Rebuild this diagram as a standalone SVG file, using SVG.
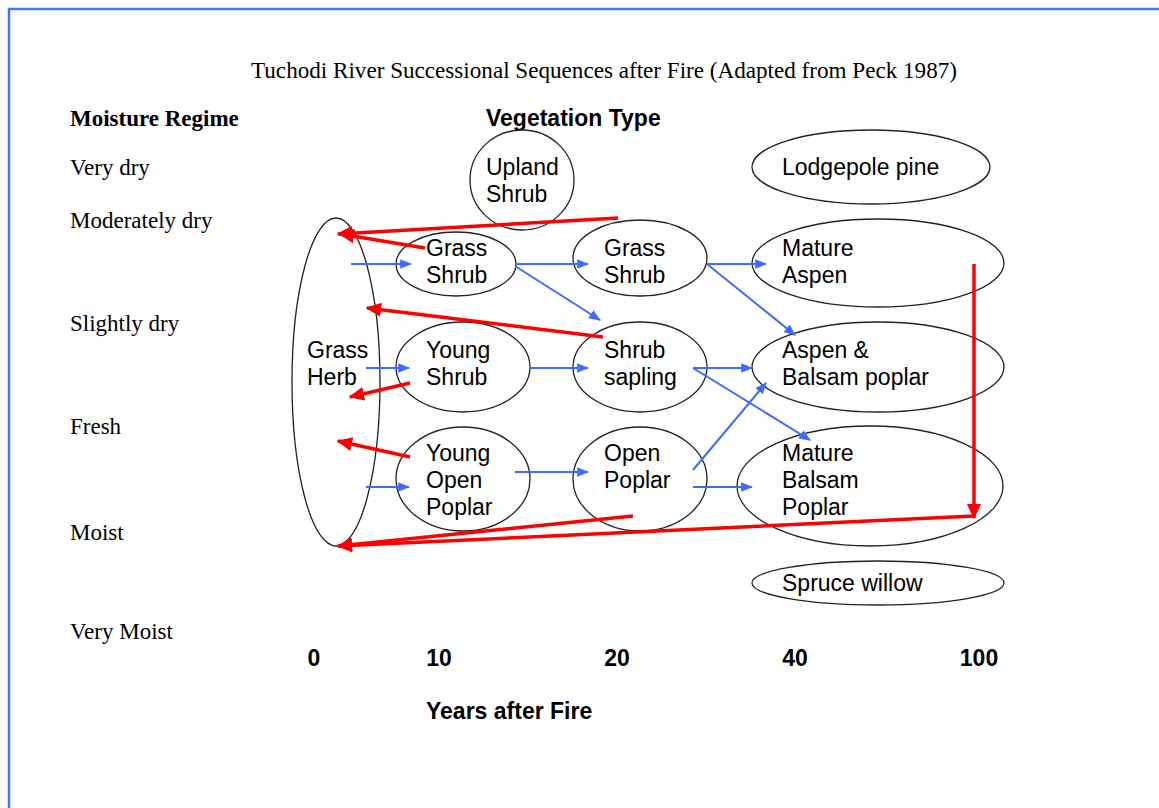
<svg xmlns="http://www.w3.org/2000/svg" width="1159" height="808" viewBox="0 0 1159 808">
<defs>
<style>
.serif{font-family:"Liberation Serif","Times New Roman",serif;font-size:23px;fill:#000}
.sans{font-family:"Liberation Sans",Arial,sans-serif;font-size:23px;fill:#000}
.b{font-weight:bold}
.node{fill:#fff;stroke:#222;stroke-width:1.3}
.blue{stroke:#3d6bff;stroke-width:2;fill:none;marker-end:url(#ab)}
.red{stroke:#ff0000;stroke-width:3.5;fill:none;marker-end:url(#ar)}
</style>
<marker id="ab" viewBox="0 0 10 10" refX="9" refY="5" markerWidth="6" markerHeight="6" orient="auto" markerUnits="strokeWidth">
<path d="M0,1 L10,5 L0,9 Z" fill="#3d6bff"/>
</marker>
<marker id="ar" viewBox="0 0 10 10" refX="9" refY="5" markerWidth="4.5" markerHeight="4.5" orient="auto" markerUnits="strokeWidth">
<path d="M0,0.5 L10,5 L0,9.5 Z" fill="#ff0000"/>
</marker>
</defs>
<rect width="1159" height="808" fill="#fff"/>
<path d="M9,808 V9 H1159" fill="none" stroke="#4a72f5" stroke-width="2.5"/>

<text class="serif" x="251" y="78" textLength="706" lengthAdjust="spacingAndGlyphs" style="font-size:22.5px">Tuchodi River Successional Sequences after Fire (Adapted from Peck 1987)</text>
<text class="serif b" x="70" y="126">Moisture Regime</text>
<text class="sans b" x="486" y="126">Vegetation Type</text>
<g id="moisture-labels">
<text class="serif" x="70" y="175">Very dry</text>
<text class="serif" x="70" y="228">Moderately dry</text>
<text class="serif" x="70" y="331">Slightly dry</text>
<text class="serif" x="70" y="434">Fresh</text>
<text class="serif" x="70" y="540">Moist</text>
<text class="serif" x="70" y="639">Very Moist</text>
</g>
<g id="axis">
<text class="sans b" x="314" y="666" text-anchor="middle">0</text>
<text class="sans b" x="439" y="666" text-anchor="middle">10</text>
<text class="sans b" x="617" y="666" text-anchor="middle">20</text>
<text class="sans b" x="795" y="666" text-anchor="middle">40</text>
<text class="sans b" x="979" y="666" text-anchor="middle">100</text>
<text class="sans b" x="426" y="719">Years after Fire</text>
</g>

<g id="n-grass-herb"><ellipse class="node" cx="336" cy="382" rx="44" ry="164"/><text class="sans" x="307" y="358">Grass</text><text class="sans" x="307" y="385">Herb</text></g>
<g id="n-upland-shrub"><ellipse class="node" cx="522" cy="180" rx="52" ry="50"/><text class="sans" x="486" y="175">Upland</text><text class="sans" x="486" y="202">Shrub</text></g>
<g id="n-lodgepole"><ellipse class="node" cx="871" cy="167" rx="119" ry="37"/><text class="sans" x="782" y="175">Lodgepole pine</text></g>
<g id="n-grass-shrub-10"><ellipse class="node" cx="456" cy="264" rx="60" ry="32"/><text class="sans" x="426" y="256">Grass</text><text class="sans" x="426" y="283">Shrub</text></g>
<g id="n-young-shrub"><ellipse class="node" cx="463" cy="367" rx="67" ry="45"/><text class="sans" x="426" y="358">Young</text><text class="sans" x="426" y="385">Shrub</text></g>
<g id="n-young-open-poplar"><ellipse class="node" cx="463" cy="479" rx="67" ry="52"/><text class="sans" x="426" y="461">Young</text><text class="sans" x="426" y="488">Open</text><text class="sans" x="426" y="515">Poplar</text></g>
<g id="n-grass-shrub-20"><ellipse class="node" cx="640" cy="258" rx="67" ry="38"/><text class="sans" x="604" y="256">Grass</text><text class="sans" x="604" y="283">Shrub</text></g>
<g id="n-shrub-sapling"><ellipse class="node" cx="640" cy="367" rx="67" ry="45"/><text class="sans" x="604" y="358">Shrub</text><text class="sans" x="604" y="385">sapling</text></g>
<g id="n-open-poplar"><ellipse class="node" cx="640" cy="479" rx="67" ry="52"/><text class="sans" x="604" y="461">Open</text><text class="sans" x="604" y="488">Poplar</text></g>
<g id="n-mature-aspen"><ellipse class="node" cx="878" cy="263" rx="126" ry="44"/><text class="sans" x="782" y="256">Mature</text><text class="sans" x="782" y="283">Aspen</text></g>
<g id="n-aspen-balsam"><ellipse class="node" cx="878" cy="367" rx="126" ry="45"/><text class="sans" x="782" y="358">Aspen &amp;</text><text class="sans" x="782" y="385">Balsam poplar</text></g>
<g id="n-mature-balsam"><ellipse class="node" cx="870" cy="486" rx="133" ry="60"/><text class="sans" x="782" y="461">Mature</text><text class="sans" x="782" y="488">Balsam</text><text class="sans" x="782" y="515">Poplar</text></g>
<g id="n-spruce-willow"><ellipse class="node" cx="878" cy="583" rx="126" ry="22"/><text class="sans" x="782" y="591">Spruce willow</text></g>

<g id="connectors">
<line class="blue" x1="351" y1="264" x2="411" y2="264"/>
<line class="blue" x1="515" y1="264" x2="588" y2="264"/>
<line class="blue" x1="515" y1="266" x2="600" y2="320"/>
<line class="blue" x1="366" y1="368" x2="409" y2="368"/>
<line class="blue" x1="529" y1="368" x2="588" y2="368"/>
<line class="blue" x1="366" y1="487" x2="409" y2="487"/>
<line class="blue" x1="515" y1="472" x2="588" y2="472"/>
<line class="blue" x1="707" y1="264" x2="766" y2="264"/>
<line class="blue" x1="707" y1="264" x2="795" y2="335"/>
<line class="blue" x1="693" y1="368" x2="752" y2="368"/>
<line class="blue" x1="693" y1="368" x2="810" y2="440"/>
<line class="blue" x1="693" y1="470" x2="766" y2="383"/>
<line class="blue" x1="693" y1="487" x2="752" y2="487"/>

<line class="red" x1="618" y1="218" x2="338" y2="234"/>
<line class="red" x1="425" y1="248" x2="340" y2="234"/>
<line class="red" x1="603" y1="337" x2="367" y2="308"/>
<line class="red" x1="410" y1="383" x2="350" y2="397"/>
<line class="red" x1="410" y1="457" x2="338" y2="441"/>
<line class="red" x1="633" y1="516" x2="338" y2="546"/>
<line class="red" x1="974" y1="264" x2="974" y2="518"/>
<line class="red" x1="974" y1="516" x2="338" y2="546"/>
</g>
</svg>
